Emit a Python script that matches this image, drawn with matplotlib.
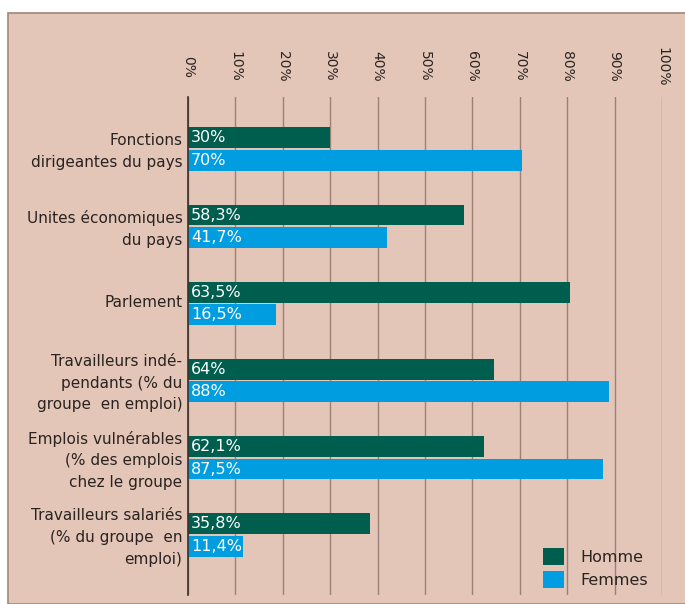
import numpy as np
import matplotlib.pyplot as plt
from matplotlib.patches import Rectangle

plt.rcParams['font.family'] = ['DejaVu Sans']

# Données
categories = ['Fonctions\ndirigeantes du pays',
              'Unites économiques\ndu pays',
              'Parlement',
              'Travailleurs indé-\npendants (% du\ngroupe  en emploi)',
              'Emplois vulnérables\n(% des emplois\nchez le groupe',
              'Travailleurs salariés\n(% du groupe  en\nemploi)']
homme = [30, 58.3, 80.5, 64.5, 62.4, 38.4]
femmes = [70.5, 42, 18.5, 88.8, 87.5, 11.6]
homme_txt = ['30%', '58,3%', '63,5%', '64%', '62,1%', '35,8%']
femmes_txt = ['70%', '41,7%', '16,5%', '88%', '87,5%', '11,4%']
ticks = [0, 10, 20, 30, 40, 50, 60, 70, 80, 90, 100]

fond = '#e3c6b8'
vert = '#005e4e'
bleu = '#009ee0'
texte = '#2a2320'

fig = plt.figure(figsize=(6.85, 6.04), dpi=100)
fig.patches.append(Rectangle((8 / 685, 0), 1, 1 - 13 / 604, transform=fig.transFigure,
                             facecolor=fond, edgecolor='#a08878', linewidth=1.2, zorder=-10))

ax = fig.add_axes([188 / 685, 9 / 604, (662 - 188) / 685, (595 - 97) / 604])
ax.set_facecolor('none')

y = np.arange(len(categories))
h = 0.27
ax.barh(y - 0.145, homme, height=h, color=vert, label='Homme', zorder=3)
ax.barh(y + 0.145, femmes, height=h, color=bleu, label='Femmes', zorder=3)

for i in range(len(categories)):
    ax.text(0.6, y[i] - 0.145, homme_txt[i], color='white', fontsize=11.5,
            va='center', ha='left', zorder=4)
    ax.text(0.6, y[i] + 0.145, femmes_txt[i], color='white', fontsize=11.5,
            va='center', ha='left', zorder=4)

ax.set_xlim(0, 100)
ax.set_ylim(5.777, -0.674)
ax.set_xticks(ticks)
ax.set_xticklabels([f'{t}%' for t in ticks])
ax.xaxis.tick_top()
ax.tick_params(axis='x', length=0, pad=22, labelsize=10, labelcolor=texte)
for lab in ax.get_xticklabels():
    lab.set_rotation(-90)
    lab.set_va('center')
    lab.set_ha('center')

ax.set_yticks(y - 0.03)
ax.set_yticklabels(categories, fontsize=11, color=texte, linespacing=1.55)
ax.tick_params(axis='y', length=0, pad=4)

ax.grid(axis='x', color='#9c8276', linewidth=1, zorder=1)
for s in ['top', 'right', 'bottom']:
    ax.spines[s].set_visible(False)
ax.spines['left'].set_color('#3a302a')
ax.spines['left'].set_linewidth(1.2)
ax.spines['left'].set_zorder(5)

ax.legend(loc='lower right', bbox_to_anchor=(1.0, -0.015), frameon=False, fontsize=11.5,
          handlelength=1.3, handleheight=1.25, labelspacing=0.4,
          labelcolor=texte, handletextpad=1.0)

fig.savefig('out.png', dpi=100)
